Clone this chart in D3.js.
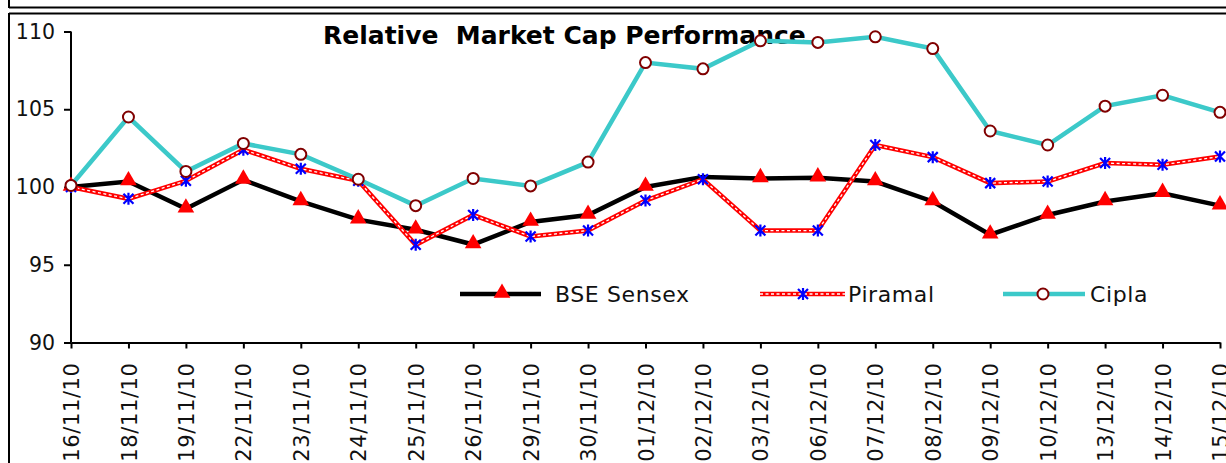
<!DOCTYPE html>
<html>
<head>
<meta charset="utf-8">
<style>
  body { margin: 0; background: #fff; }
  svg { display: block; }
  svg text { font-family: "DejaVu Sans", Verdana, sans-serif; }
</style>
</head>
<body>
<svg width="1226" height="463"></svg>
<script src="https://d3js.org/d3.v7.min.js"></script>
<script>

var dates = ["16/11/10","18/11/10","19/11/10","22/11/10","23/11/10","24/11/10","25/11/10",
             "26/11/10","29/11/10","30/11/10","01/12/10","02/12/10","03/12/10","06/12/10",
             "07/12/10","08/12/10","09/12/10","10/12/10","13/12/10","14/12/10","15/12/10"];
var sensex  = [100.0,100.35,98.6,100.46,99.07,97.9,97.25,96.3,97.75,98.2,100.0,100.65,100.55,100.6,100.35,99.07,96.93,98.2,99.07,99.6,98.8];
var piramal = [100.0,99.24,100.4,102.4,101.17,100.4,96.28,98.2,96.82,97.2,99.13,100.5,97.2,97.2,102.7,101.92,100.25,100.35,101.54,101.43,101.96];
var cipla   = [100.1,104.5,101.0,102.8,102.1,100.5,98.8,100.55,100.07,101.6,108.0,107.6,109.4,109.3,109.66,108.9,103.6,102.7,105.2,105.9,104.8];
var yTicks  = [90, 95, 100, 105, 110];
var sensexHiddenMarkers = ["02/12/10"];

var svg = d3.select("svg"),
    width = +svg.attr("width"),
    height = +svg.attr("height");

// frame lines
svg.append("line").attr("x1", 9).attr("y1", 0).attr("x2", 9).attr("y2", 8).attr("stroke", "#000").attr("stroke-width", 2);
svg.append("line").attr("x1", 9).attr("y1", 7.5).attr("x2", width).attr("y2", 7.5).attr("stroke", "#000").attr("stroke-width", 2);
svg.append("line").attr("x1", 9).attr("y1", 13.5).attr("x2", width).attr("y2", 13.5).attr("stroke", "#000").attr("stroke-width", 2);
svg.append("line").attr("x1", 9).attr("y1", 13).attr("x2", 9).attr("y2", height).attr("stroke", "#000").attr("stroke-width", 2);

var x = d3.scalePoint().domain(dates).range([71, 1220]);
var y = d3.scaleLinear().domain([90, 110]).range([342.5, 31.5]);

// axes
var yAxis = svg.append("g").attr("transform", "translate(71,0)")
    .call(d3.axisLeft(y).tickValues(yTicks).tickSize(7).tickPadding(9));
yAxis.attr("font-family", null).attr("font-size", null);
yAxis.selectAll("text").style("font-size", "20.5px").attr("fill", "#111");
yAxis.selectAll("line,path").attr("stroke", "#000").attr("stroke-width", 2);
yAxis.select(".domain").attr("d", "M0," + y(90) + "V" + y(110));

var xAxis = svg.append("g").attr("transform", "translate(0," + y(90) + ")")
    .call(d3.axisBottom(x).tickSize(6).tickSizeOuter(0));
xAxis.attr("font-family", null).attr("font-size", null);
xAxis.selectAll("line,path").attr("stroke", "#000").attr("stroke-width", 2);
xAxis.selectAll("text")
    .style("font-size", "21px").style("letter-spacing", "0.6px").attr("fill", "#111")
    .attr("transform", "rotate(-90)")
    .attr("x", -20).attr("y", 0).attr("dy", "0.36em")
    .attr("text-anchor", "end");

// title
svg.append("text").attr("x", 323).attr("y", 44)
    .style("font-size", "25px").style("font-weight", "bold").style("white-space", "pre")
    .text("Relative  Market Cap Performance");

var line = d3.line().x(function(d, i){ return x(dates[i]); }).y(function(d){ return y(d); });

function drawPiramalLine(sel){
    sel.append("path").attr("fill", "none").attr("stroke", "#ff0000").attr("stroke-width", 4.5);
    sel.append("path").attr("fill", "none").attr("stroke", "#fff").attr("stroke-width", 1.3)
        .attr("stroke-dasharray", "3,2.5");
}

// lines
svg.append("path").datum(sensex).attr("d", line)
    .attr("fill", "none").attr("stroke", "#000").attr("stroke-width", 4.5);
var pg = svg.append("g");
drawPiramalLine(pg);
pg.selectAll("path").datum(piramal).attr("d", line);
svg.append("path").datum(cipla).attr("d", line)
    .attr("fill", "none").attr("stroke", "#3cc9c9").attr("stroke-width", 4.5);

var tri = d3.symbol().type(d3.symbolTriangle).size(120);

function triangle(g, cx, cy){
    g.append("path").attr("d", tri).attr("transform", "translate(" + cx + "," + (cy - 1) + ")")
        .attr("fill", "#ff0000");
}
function star(g, cx, cy){
    var s = 5;
    g.append("path")
        .attr("d", "M" + (cx - s) + "," + (cy - s) + "L" + (cx + s) + "," + (cy + s) +
                   "M" + (cx - s) + "," + (cy + s) + "L" + (cx + s) + "," + (cy - s) +
                   "M" + cx + "," + (cy - s - 1) + "L" + cx + "," + (cy + s + 1))
        .attr("stroke", "#0000ff").attr("stroke-width", 2.2).attr("fill", "none");
}
function circle(g, cx, cy){
    g.append("circle").attr("cx", cx).attr("cy", cy).attr("r", 5.5)
        .attr("fill", "#fff").attr("stroke", "#800000").attr("stroke-width", 2);
}

// markers
var mg = svg.append("g");
sensex.forEach(function(v, i){
    if (sensexHiddenMarkers.indexOf(dates[i]) < 0) triangle(mg, x(dates[i]), y(v));
});
piramal.forEach(function(v, i){ star(mg, x(dates[i]), y(v)); });
cipla.forEach(function(v, i){ circle(mg, x(dates[i]), y(v)); });

// legend
var ly = 294;
var lg = svg.append("g");
lg.append("line").attr("x1", 460).attr("x2", 541).attr("y1", ly).attr("y2", ly)
    .attr("stroke", "#000").attr("stroke-width", 4.5);
triangle(lg, 502, ly);
var pl = lg.append("g");
drawPiramalLine(pl);
pl.selectAll("path").attr("d", "M760," + ly + "H845");
star(lg, 803, ly);
lg.append("line").attr("x1", 1003).attr("x2", 1085).attr("y1", ly).attr("y2", ly)
    .attr("stroke", "#3cc9c9").attr("stroke-width", 4.5);
circle(lg, 1043, ly);

var legendNames = [["BSE Sensex", 555], ["Piramal", 848], ["Cipla", 1090]];
lg.selectAll("text.leg").data(legendNames).enter().append("text")
    .attr("x", function(d){ return d[1]; }).attr("y", ly).attr("dy", "0.36em")
    .style("font-size", "22px").style("letter-spacing", "0.6px").attr("fill", "#111")
    .text(function(d){ return d[0]; });

</script>
</body>
</html>
